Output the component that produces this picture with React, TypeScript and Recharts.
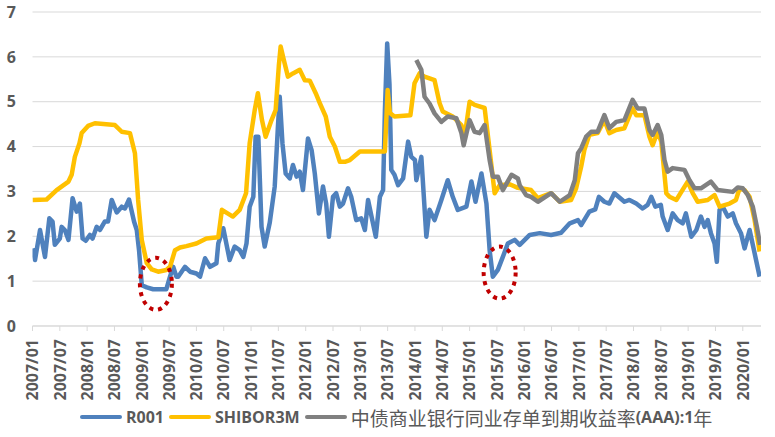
import { LineChart, Line, XAxis, YAxis, CartesianGrid, ReferenceDot } from 'recharts'

// 月份以 2007/01 为 0 计
const R001_T = [0, 0.55, 1.65, 2.74, 3.7, 4.4, 4.9, 6.0, 6.4, 7.1, 7.9, 8.8, 9.7, 10.4, 11.0, 11.7, 12.6, 13.2, 14.1, 14.8, 15.9, 16.6, 17.4, 18.5, 19.6, 20.3, 21.2, 22.3, 22.9, 23.4, 24.0, 25.1, 26.5, 29.4, 30.2, 30.9, 31.6, 32.0, 33.5, 34.6, 36.0, 36.8, 37.9, 39.0, 40.4, 40.8, 41.9, 43.3, 44.4, 45.5, 46.3, 47.0, 47.7, 48.5, 49.0, 49.6, 50.3, 51.0, 52.1, 53.2, 53.9, 54.3, 54.9, 55.6, 56.5, 57.2, 58.0, 58.7, 59.4, 60.5, 61.3, 62.0, 62.9, 63.8, 64.5, 65.1, 66.0, 66.7, 67.5, 68.2, 69.3, 70.0, 71.1, 72.2, 73.0, 73.7, 74.4, 75.4, 76.3, 77.0, 77.4, 77.9, 78.4, 78.8, 79.5, 80.3, 81.4, 82.5, 83.2, 84.0, 84.3, 85.4, 86.5, 87.2, 88.3, 89.8, 91.2, 92.3, 93.4, 95.3, 96.4, 97.3, 98.6, 99.7, 100.4, 101.1, 102.2, 103.3, 104.4, 105.9, 107.0, 109.2, 111.4, 113.9, 116.1, 118.0, 119.8, 120.5, 122.3, 123.6, 124.4, 125.6, 126.7, 127.8, 130.0, 131.1, 132.6, 134.0, 135.1, 135.9, 136.8, 138.0, 138.4, 139.5, 140.6, 141.7, 142.8, 143.5, 144.7, 145.8, 146.8, 147.6, 148.3, 149.0, 149.8, 150.3, 150.9, 151.6, 152.7, 153.8, 154.5, 155.6, 156.4, 157.5, 158.6, 159.7]
const R001_V = [1.73, 1.47, 2.14, 1.54, 2.4, 2.33, 1.81, 1.95, 2.21, 2.14, 1.92, 2.85, 2.55, 2.73, 1.95, 1.9, 2.03, 1.95, 2.21, 2.14, 2.33, 2.33, 2.81, 2.53, 2.66, 2.62, 2.82, 2.33, 2.14, 1.69, 0.91, 0.86, 0.82, 0.82, 1.1, 1.32, 1.1, 1.1, 1.32, 1.21, 1.17, 1.1, 1.51, 1.32, 1.4, 1.84, 2.18, 1.47, 1.77, 1.69, 1.54, 1.84, 2.66, 2.88, 4.22, 4.22, 2.21, 1.77, 2.3, 3.11, 4.44, 5.11, 4.07, 3.4, 3.29, 3.59, 3.33, 3.44, 3.03, 4.18, 3.92, 3.4, 2.51, 3.11, 2.73, 1.99, 2.88, 2.96, 2.66, 2.73, 3.07, 2.88, 2.36, 2.4, 2.14, 2.81, 2.47, 1.99, 2.88, 3.03, 4.81, 6.3, 5.4, 3.48, 3.37, 3.14, 3.29, 4.11, 3.77, 3.7, 3.25, 3.77, 1.99, 2.59, 2.36, 2.81, 3.25, 2.88, 2.59, 2.66, 3.22, 2.77, 3.4, 2.73, 1.69, 1.1, 1.25, 1.54, 1.84, 1.92, 1.81, 2.03, 2.07, 2.03, 2.08, 2.29, 2.36, 2.25, 2.55, 2.6, 2.88, 2.77, 2.73, 2.96, 2.77, 2.81, 2.73, 2.62, 2.7, 2.88, 2.66, 2.7, 2.44, 2.14, 2.51, 2.36, 2.29, 2.51, 1.99, 2.14, 2.44, 2.21, 2.36, 2.07, 1.84, 1.43, 2.59, 2.66, 2.44, 2.51, 2.29, 2.07, 1.73, 2.14, 1.62, 1.1]

const SHIBOR_T = [0, 3.1, 5.3, 7.9, 8.6, 9.3, 10.3, 10.8, 12.2, 13.7, 18.1, 19.6, 21.4, 22.5, 23.2, 24.0, 25.1, 26.2, 27.6, 29.4, 30.2, 31.3, 32.4, 33.8, 36.0, 38.2, 40.8, 41.6, 44.0, 45.5, 46.9, 47.7, 48.8, 49.5, 50.4, 51.2, 52.5, 53.4, 54.1, 54.5, 55.2, 56.1, 57.2, 58.7, 59.8, 60.9, 62.2, 63.1, 64.4, 65.3, 66.4, 67.5, 68.6, 69.7, 71.9, 77.4, 77.8, 78.0, 78.5, 79.5, 83.0, 83.9, 85.0, 86.1, 88.3, 89.4, 90.1, 92.3, 94.2, 94.9, 96.0, 97.1, 99.3, 100.4, 101.5, 102.6, 104.8, 106.6, 109.5, 111.0, 113.9, 115.8, 118.3, 119.4, 120.5, 121.2, 122.3, 124.1, 125.6, 126.7, 128.2, 130.0, 131.8, 132.6, 134.4, 135.5, 136.2, 137.3, 138.1, 139.2, 139.9, 141.4, 143.9, 145.0, 146.1, 148.3, 149.8, 150.9, 153.1, 154.5, 155.3, 156.4, 157.5, 158.6, 159.7]
const SHIBOR_V = [2.81, 2.82, 3.03, 3.22, 3.37, 3.77, 4.07, 4.3, 4.46, 4.52, 4.48, 4.33, 4.3, 3.85, 2.81, 1.92, 1.4, 1.26, 1.21, 1.25, 1.32, 1.69, 1.75, 1.78, 1.84, 1.95, 1.98, 2.59, 2.44, 2.59, 2.96, 4.08, 4.81, 5.19, 4.59, 4.22, 4.59, 4.81, 5.8, 6.23, 5.93, 5.56, 5.63, 5.71, 5.48, 5.47, 5.19, 4.97, 4.67, 4.22, 4.0, 3.66, 3.66, 3.7, 3.89, 3.89, 4.81, 5.26, 4.75, 4.67, 4.7, 5.41, 5.63, 5.56, 5.48, 4.97, 4.78, 4.67, 4.48, 4.22, 5.0, 4.93, 4.86, 3.92, 2.96, 3.14, 3.16, 3.08, 3.03, 2.85, 2.96, 2.77, 2.81, 3.07, 3.55, 3.92, 4.26, 4.3, 4.59, 4.3, 4.37, 4.41, 4.85, 4.7, 4.7, 4.22, 4.03, 4.33, 4.11, 2.96, 2.88, 2.81, 3.22, 2.96, 2.77, 2.81, 2.92, 2.66, 2.73, 2.81, 3.07, 3.03, 2.88, 2.36, 1.66]

const NCD_T = [84.3, 85.4, 86.1, 87.2, 88.3, 89.8, 91.2, 93.1, 94.2, 94.7, 96.0, 97.1, 98.2, 99.3, 100.4, 101.1, 102.2, 103.3, 105.2, 106.6, 107.0, 108.4, 109.5, 111.0, 113.9, 115.8, 118.0, 119.1, 119.8, 120.5, 121.6, 122.7, 124.1, 125.6, 126.7, 128.2, 130.0, 131.8, 132.9, 134.4, 135.5, 136.2, 137.3, 138.1, 138.8, 139.5, 140.6, 143.2, 144.3, 145.4, 146.8, 149.0, 150.5, 153.8, 154.9, 156.0, 157.1, 158.2, 159.1, 159.8]
const NCD_V = [5.93, 5.71, 5.11, 4.96, 4.74, 4.55, 4.67, 4.63, 4.3, 4.03, 4.59, 4.33, 4.3, 4.48, 3.7, 3.33, 3.33, 3.03, 3.37, 3.29, 3.14, 2.92, 2.88, 2.77, 2.96, 2.77, 2.92, 3.25, 3.85, 3.96, 4.22, 4.33, 4.33, 4.7, 4.41, 4.55, 4.59, 5.04, 4.85, 4.85, 4.37, 4.26, 4.48, 4.26, 3.7, 3.44, 3.52, 3.48, 3.25, 3.07, 3.07, 3.22, 3.03, 2.99, 3.09, 3.07, 2.92, 2.66, 2.21, 1.81]

const X_TICKS = Array.from({ length: 27 }, (_, i) => i * 6)
const Y_TICKS = [0, 1, 2, 3, 4, 5, 6, 7]

// 红色虚线圈标注位置
const MARK_T = [27.1, 102.6]
const MARK_V = [0.94, 1.19]

const r001 = R001_T.map((t, i) => ({ t, v: R001_V[i] }))
const shibor = SHIBOR_T.map((t, i) => ({ t, v: SHIBOR_V[i] }))
const ncd = NCD_T.map((t, i) => ({ t, v: NCD_V[i] }))

const fmtMonth = (m: number) => `${2007 + Math.floor(m / 12)}/${String((m % 12) + 1).padStart(2, '0')}`

const FONT = '"Open Sans", "Noto Sans CJK SC", sans-serif'

const XTick = ({ x, y, payload }: any) => (
  <text
    x={x}
    y={y}
    transform={`rotate(-90 ${x} ${y})`}
    textAnchor="end"
    dy="0.36em"
    fill="#595959"
    fontSize={16}
    fontWeight={700}
    fontFamily={FONT}
  >
    {fmtMonth(payload.value)}
  </text>
)

const Ring = ({ cx, cy }: any) => (
  <ellipse cx={cx} cy={cy} rx={16} ry={26} fill="none" stroke="#c00000" strokeWidth={4} strokeDasharray="4 5" />
)

const LegendItem = ({ color, children }: any) => (
  <div style={{ display: 'flex', alignItems: 'center' }}>
    <div style={{ width: 42, height: 4, borderRadius: 2, background: color, marginRight: 4 }} />
    {children}
  </div>
)

export default function App() {
  return (
    <div style={{ position: 'absolute', left: 0, top: 0, width: 775, height: 437, background: '#fff' }}>
      <LineChart width={775} height={437} margin={{ top: 12, right: 14, left: 0, bottom: 0 }}>
        <CartesianGrid vertical={false} stroke="#d9d9d9" />
        <XAxis
          dataKey="t"
          type="number"
          domain={[0, 160]}
          ticks={X_TICKS}
          interval={0}
          height={111}
          tick={<XTick />}
          tickSize={5}
          tickMargin={8}
          stroke="#d9d9d9"
          allowDataOverflow
        />
        <YAxis
          domain={[0, 7]}
          ticks={Y_TICKS}
          width={32.5}
          axisLine={false}
          tickLine={false}
          tickMargin={10.5}
          tick={{ fill: '#595959', fontSize: 16, fontWeight: 700, fontFamily: FONT }}
        />
        <Line data={r001} dataKey="v" stroke="#4f81bd" strokeWidth={4.5} dot={false} isAnimationActive={false} strokeLinejoin="round" />
        <Line data={shibor} dataKey="v" stroke="#ffc000" strokeWidth={4.5} dot={false} isAnimationActive={false} strokeLinejoin="round" />
        <Line data={ncd} dataKey="v" stroke="#808080" strokeWidth={4.5} dot={false} isAnimationActive={false} strokeLinejoin="round" />
        {MARK_T.map((t, i) => (
          <ReferenceDot key={i} x={t} y={MARK_V[i]} r={0} shape={<Ring />} />
        ))}
      </LineChart>
      <div
        style={{
          position: 'absolute',
          left: 80,
          top: 405,
          height: 24,
          display: 'flex',
          alignItems: 'center',
          gap: 5,
          fontFamily: FONT,
          fontSize: 16,
          fontWeight: 700,
          color: '#595959',
          whiteSpace: 'nowrap',
        }}
      >
        <LegendItem color="#4f81bd">R001</LegendItem>
        <LegendItem color="#ffc000">SHIBOR3M</LegendItem>
        <LegendItem color="#808080">
          <span style={{ fontSize: 19, fontWeight: 400, fontFamily: '"Noto Sans CJK SC"' }}>中债商业银行同业存单到期收益率</span>
          <span>(AAA):1</span>
          <span style={{ fontSize: 19, fontWeight: 400, fontFamily: '"Noto Sans CJK SC"' }}>年</span>
        </LegendItem>
      </div>
    </div>
  )
}
